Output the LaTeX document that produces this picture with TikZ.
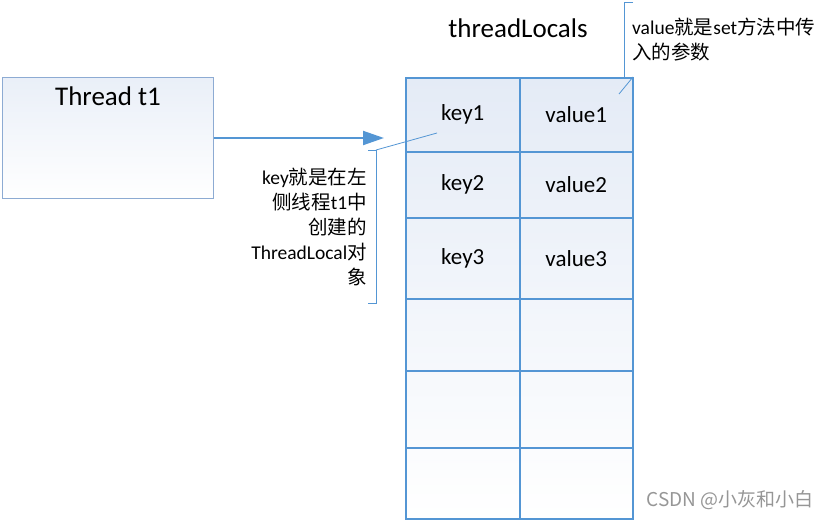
\documentclass[tikz,border=0pt]{standalone}
\usepackage{fontspec}
\setmainfont{Carlito}
\newfontfamily\cjk{Noto Sans CJK SC}
\usetikzlibrary{arrows.meta, positioning}
\definecolor{lineblue}{RGB}{84,150,212}
\definecolor{boxline}{RGB}{141,171,211}
\definecolor{cellbg}{RGB}{228,235,246}
\definecolor{markgray}{RGB}{150,150,150}

\begin{document}
\begin{tikzpicture}[x=1pt, y=-1pt,
    big/.style={font=\fontsize{27}{32}\selectfont},
    note/.style={font=\fontsize{19.5}{25}\selectfont, inner sep=0pt},
    cell/.style={draw=lineblue, line width=1.5pt, anchor=north west, inner sep=0pt, font=\fontsize{23}{28}\selectfont},
    brace/.style={draw=lineblue, line width=0.8pt},
    arr/.style={-{Triangle[length=21pt, width=14pt]}, draw=lineblue, line width=2pt}
  ]
  \useasboundingbox (0,0) rectangle (831,520);

  % thread
  \node[draw=boxline, line width=1pt, top color=cellbg!80, bottom color=white, anchor=north west,
        minimum width=211, minimum height=121,
        label={[big, anchor=north, yshift=-6pt]north:Thread t1}] (thread) at (2,77) {};
  \coordinate (tip) at (384,138);
  \draw[arr] (thread.east) -- (tip);

  % threadLocals table
  \node[big] (title) at (518,28) {threadLocals};
  \shade[top color=cellbg, middle color=white!95!cellbg, bottom color=white] (405,77) rectangle (632,518);
  \foreach \r/\t/\h/\k/\v in {1/77/74/key1/value1, 2/151/66/key2/value2, 3/217/81/key3/value3,
                              4/298/72/{}/{}, 5/370/77/{}/{}, 6/447/71/{}/{}}{
    \node[cell, minimum width=114, minimum height=\h] (k\r) at (405,\t) {\k};
    \node[cell, minimum width=113, minimum height=\h] (v\r) at (519,\t) {\v};
  }

  % notes
  \node[note, align=right, anchor=east] (keynote) at (367,227)
    {key{\cjk 就是在左}\\{\cjk 侧线程}t1{\cjk 中}\\{\cjk 创建的}\\ThreadLocal{\cjk 对}\\{\cjk 象}};
  \coordinate (keyfoot) at (376,150);
  \coordinate (keylead) at (437,133);
  \draw[brace] (368,150) -- (keyfoot) -- (376,303) -- (368,303);
  \draw[brace] (keyfoot) -- (keylead);

  \node[note, align=left, anchor=north west] (valnote) at (632,18)
    {value{\cjk 就是}set{\cjk 方法中传}\\{\cjk 入的参数}};
  \coordinate (valfoot) at (633,77);
  \coordinate (vallead) at (619,94);
  \draw[brace] (633,2) -- (624,2) -- (624,77) -- (valfoot);
  \draw[brace] (valfoot) -- (vallead);

  \node[font=\cjk\fontsize{19}{22}\selectfont, text=markgray, anchor=east] (mark) at (817,500) {CSDN @小灰和小白};
\end{tikzpicture}
\end{document}
